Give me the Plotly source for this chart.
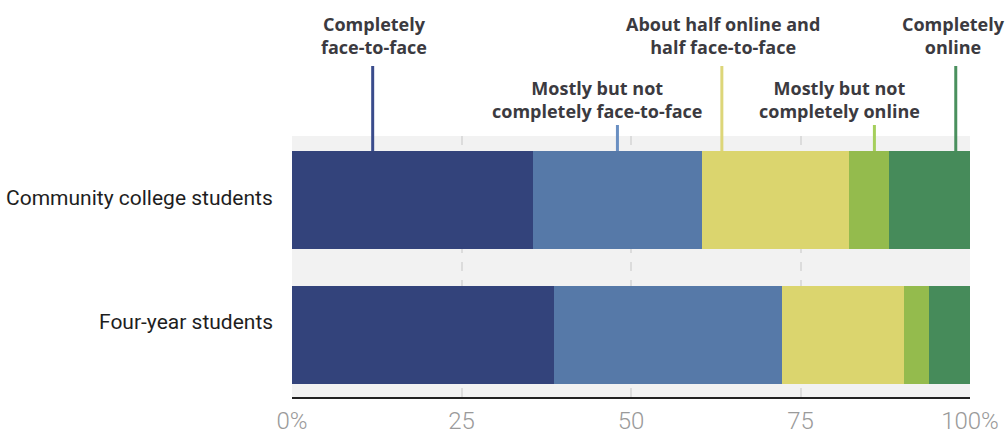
import plotly.graph_objects as go

categories = ["Community college students", "Four-year students"]
series_names = [
    "Completely<br>face-to-face",
    "Mostly but not<br>completely face-to-face",
    "About half online and<br>half face-to-face",
    "Mostly but not<br>completely online",
    "Completely<br>online",
]
community = [35.6, 24.9, 21.7, 5.9, 11.9]
four_year = [38.7, 33.6, 17.9, 3.8, 6.0]
colors = ["#33437b", "#5679a8", "#dbd56e", "#94bb4d", "#468b5a"]
line_colors = ["#3a4c8c", "#6a8fc2", "#ddd679", "#a5cf5c", "#4a905e"]
tick_vals = [0, 25, 50, 75, 100]
tick_text = ["0%", "25", "50", "75", "100%"]

# label layout (position of leader line in % units, text center in % units, tier)
line_x = [11.9, 48.0, 63.4, 85.9, 97.9]
text_x = [12.1, 45.0, 63.5, 80.8, 97.6]
tier = [0, 1, 0, 1, 0]
cat_label_y = [(397 - 198) / 261.0, (397 - 322) / 261.0]

fig = go.Figure()
for i, name in enumerate(series_names):
    fig.add_trace(go.Bar(
        y=[0, 1], x=[community[i], four_year[i]], orientation="h",
        marker=dict(color=colors[i], line=dict(width=0)),
        width=0.722, name=name.replace("<br>", " "), showlegend=False,
        hoverinfo="x",
    ))

bar_top_paper = (397 - 151) / 261.0
tier_line_top = [(397 - 66) / 261.0, (397 - 125) / 261.0]
tier_text_y = [(397 - 35) / 261.0, (397 - 100) / 261.0]

shapes = []
annotations = []
for i, name in enumerate(series_names):
    shapes.append(dict(
        type="line", xref="paper", yref="paper",
        x0=line_x[i] / 100, x1=line_x[i] / 100,
        y0=bar_top_paper, y1=tier_line_top[tier[i]],
        line=dict(color=line_colors[i], width=3),
    ))
    annotations.append(dict(
        xref="paper", yref="paper", x=text_x[i] / 100, y=tier_text_y[tier[i]],
        text="<b>" + name + "</b>", showarrow=False, xanchor="center", yanchor="middle",
        align="center", font=dict(family="Open Sans", size=18, color="#3b3a40"),
    ))
for j, cat in enumerate(categories):
    annotations.append(dict(
        xref="paper", yref="paper", x=0, y=cat_label_y[j], xshift=-17,
        text=cat, showarrow=False, xanchor="right", yanchor="middle",
        font=dict(family="Roboto", size=21, color="#1e1e1e"),
    ))

fig.update_layout(
    width=1007, height=437,
    margin=dict(l=292, r=37, t=136, b=40, autoexpand=False),
    paper_bgcolor="white", plot_bgcolor="#f2f2f2",
    barmode="stack", bargap=0,
    shapes=shapes, annotations=annotations,
    xaxis=dict(
        range=[0, 100], tickvals=tick_vals, ticktext=tick_text,
        showgrid=True, gridcolor="#dcdcdc", griddash="dash", gridwidth=1.5,
        zeroline=False, showline=True, linecolor="#222222", linewidth=2,
        ticks="", automargin=False, ticklabelstandoff=1,
        tickfont=dict(family="Roboto", size=24, color="#9a9a9a", weight=300),
        fixedrange=True,
    ),
    yaxis=dict(
        range=[1.459, -0.473], tickvals=[0, 1], showticklabels=False,
        showgrid=False, zeroline=False, showline=False, ticks="",
        automargin=False, fixedrange=True,
    ),
    font=dict(family="Roboto"),
)

fig.write_html("out.html")
